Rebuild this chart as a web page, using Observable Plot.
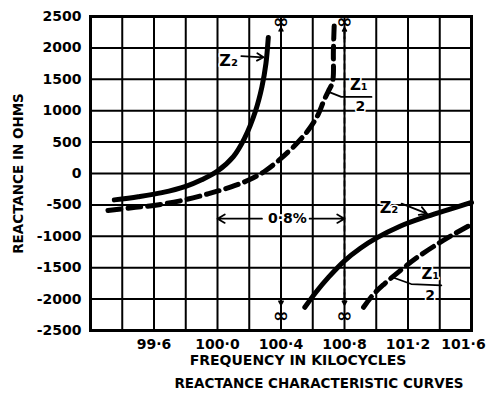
<!DOCTYPE html>
<html><head><meta charset="utf-8">
<script src="https://cdn.jsdelivr.net/npm/d3@7"></script>
<script src="https://cdn.jsdelivr.net/npm/@observablehq/plot@0.6"></script>
<style>body{margin:0;background:#fff}</style>
</head><body><div id="chart"></div>
<script>
// Grid and ticks
const xGrid = [99.2, 99.4, 99.6, 99.8, 100.0, 100.2, 100.4, 100.6, 100.8, 101.0, 101.2, 101.4, 101.6];
const yGrid = [-2500, -2000, -1500, -1000, -500, 0, 500, 1000, 1500, 2000, 2500];
const xTicks = [99.6, 100.0, 100.4, 100.8, 101.2, 101.6];
const xTickLabels = ["99·6", "100·0", "100·4", "100·8", "101·2", "101·6"];
const yTicks = [-2500, -2000, -1500, -1000, -500, 0, 500, 1000, 1500, 2000, 2500];
const yTickLabels = ["-2500", "-2000", "-1500", "-1000", "-500", "0", "500", "1000", "1500", "2000", "2500"];

// Curves [kilocycles, ohms]
const z2Low = [[99.35,-420],[99.5,-370],[99.65,-305],[99.8,-205],[99.9,-100],[100.0,40],[100.1,270],[100.17,560],[100.24,1000],[100.28,1380],[100.305,1750],[100.32,2166]];
const z2High = [[100.55,-2130],[100.62,-1890],[100.70,-1650],[100.80,-1390],[100.90,-1190],[101.0,-1030],[101.15,-840],[101.30,-700],[101.45,-580],[101.60,-460]];
const z1HalfLow = [[99.31,-590],[99.46,-545],[99.61,-505],[99.775,-430],[99.945,-320],[100.09,-210],[100.2,-100],[100.3,40],[100.4,240],[100.5,480],[100.57,685],[100.63,920],[100.67,1160],[100.70,1320],[100.725,1460],[100.73,1960],[100.735,2357]];
const z1HalfHigh = [[100.92,-2130],[100.98,-1930],[101.05,-1760],[101.13,-1590],[101.25,-1350],[101.40,-1100],[101.50,-950],[101.60,-810]];

// Annotations
const asymptotes = [100.4, 100.8];
const asymptoteSpan = [-2080, 2300];
const asymptoteArrows = [
  {x1:100.4,y1:2150,x2:100.4,y2:2320},{x1:100.8,y1:2150,x2:100.8,y2:2320},
  {x1:100.4,y1:-1900,x2:100.4,y2:-2090},{x1:100.8,y1:-1900,x2:100.8,y2:-2090}];
const infinityMarks = [{x:100.4,y:2420},{x:100.8,y:2420},{x:100.4,y:-2270},{x:100.8,y:-2270}];
const spanArrows = [{x1:100.28,y1:-720,x2:100.0,y2:-720},{x1:100.58,y1:-720,x2:100.8,y2:-720}];
const spanLabel = [{x:100.44,y:-720,t:"0·8%"}];
const z2Labels = [{x:100.07,y:1790,t:"Z₂"},{x:101.08,y:-550,t:"Z₂"}];
const z2Pointers = [{x1:100.15,y1:1870,x2:100.29,y2:1850},{x1:101.16,y1:-480,x2:101.32,y2:-640}];
const fracTops = [{x:100.89,y:1410,t:"Z₁"},{x:101.34,y:-1600,t:"Z₁"}];
const fracBottoms = [{x:100.90,y:1070,t:"2"},{x:101.34,y:-1950,t:"2"}];
const fracLeaderA = [[100.70,1300],[100.78,1220],[100.97,1220]];
const fracLeaderB = [[101.11,-1660],[101.22,-1760],[101.41,-1780]];

const X = d => d[0], Y = d => d[1];
const xFmt = new Map(xTicks.map((v,i)=>[v, xTickLabels[i]]));
const yFmt = new Map(yTicks.map((v,i)=>[v, yTickLabels[i]]));
const lastTick = xTicks[xTicks.length - 1];

const chart = Plot.plot({
  width: 489, height: 394,
  marginTop: 16, marginBottom: 64, marginLeft: 90, marginRight: 18,
  style: {fontFamily: "'DejaVu Sans', sans-serif", fontWeight: "bold", fontSize: "14px", color: "black", background: "white"},
  x: {domain: [99.2, 101.6]},
  y: {domain: [-2500, 2500]},
  marks: [
    Plot.gridX({ticks: xGrid, stroke: "black", strokeOpacity: 1, strokeWidth: 2}),
    Plot.gridY({ticks: yGrid, stroke: "black", strokeOpacity: 1, strokeWidth: 2}),
    Plot.frame({stroke: "black", strokeWidth: 3}),
    Plot.axisX({ticks: xTicks.slice(0, -1), tickFormat: d => xFmt.get(d), tickSize: 0, tickPadding: 9, label: null, fontSize: 14}),
    Plot.axisX({ticks: [lastTick], tickFormat: d => xFmt.get(d), tickSize: 0, tickPadding: 9, label: null, fontSize: 14, dx: -8}),
    Plot.axisY({ticks: yTicks, tickFormat: d => yFmt.get(d), tickSize: 0, tickPadding: 9, label: null, fontSize: 14}),
    Plot.ruleX(asymptotes, {y1: asymptoteSpan[0], y2: asymptoteSpan[1], stroke: "black", strokeWidth: 1.6, strokeDasharray: "6,3"}),
    Plot.arrow(asymptoteArrows, {x1:"x1", y1:"y1", x2:"x2", y2:"y2", stroke:"black", strokeWidth:1.8, headLength: 7}),
    Plot.text(infinityMarks, {x:"x", y:"y", text: () => "∞", fontSize: 19}),
    Plot.line(z2Low, {x: X, y: Y, stroke: "black", strokeWidth: 5, curve: "catmull-rom"}),
    Plot.line(z2High, {x: X, y: Y, stroke: "black", strokeWidth: 5, curve: "catmull-rom"}),
    Plot.line(z1HalfLow, {x: X, y: Y, stroke: "black", strokeWidth: 5, strokeDasharray: "13,7", curve: "catmull-rom"}),
    Plot.line(z1HalfHigh, {x: X, y: Y, stroke: "black", strokeWidth: 5, strokeDasharray: "13,7", curve: "catmull-rom"}),
    Plot.arrow(spanArrows, {x1:"x1", y1:"y1", x2:"x2", y2:"y2", stroke:"black", strokeWidth:1.8, headLength: 7}),
    Plot.text(spanLabel, {x:"x", y:"y", text:"t", fontSize: 14, stroke: "white", strokeWidth: 4, fill: "black"}),
    Plot.text(z2Labels, {x:"x", y:"y", text:"t", fontSize: 16, stroke: "white", strokeWidth: 3, fill: "black"}),
    Plot.arrow(z2Pointers, {x1:"x1", y1:"y1", x2:"x2", y2:"y2", stroke:"black", strokeWidth:1.8, headLength: 7}),
    Plot.line(fracLeaderA, {x: X, y: Y, stroke: "black", strokeWidth: 1.8}),
    Plot.line(fracLeaderB, {x: X, y: Y, stroke: "black", strokeWidth: 1.8}),
    Plot.text(fracTops, {x:"x", y:"y", text:"t", fontSize: 15, stroke: "white", strokeWidth: 3, fill: "black"}),
    Plot.text(fracBottoms, {x:"x", y:"y", text:"t", fontSize: 14, stroke: "white", strokeWidth: 3, fill: "black"}),
    Plot.text(["REACTANCE IN OHMS"], {frameAnchor: "left", dx: -72, rotate: -90, textAnchor: "middle", lineAnchor: "middle", fontSize: 13.5}),
    Plot.text(["FREQUENCY IN KILOCYCLES"], {frameAnchor: "bottom", dx: 17, dy: 30, textAnchor: "middle", lineAnchor: "middle", fontSize: 14}),
    Plot.text(["REACTANCE CHARACTERISTIC CURVES"], {frameAnchor: "bottom", dx: 38, dy: 53, textAnchor: "middle", lineAnchor: "middle", fontSize: 13.5})
  ]
});
document.getElementById("chart").append(chart);
</script>
</body></html>
